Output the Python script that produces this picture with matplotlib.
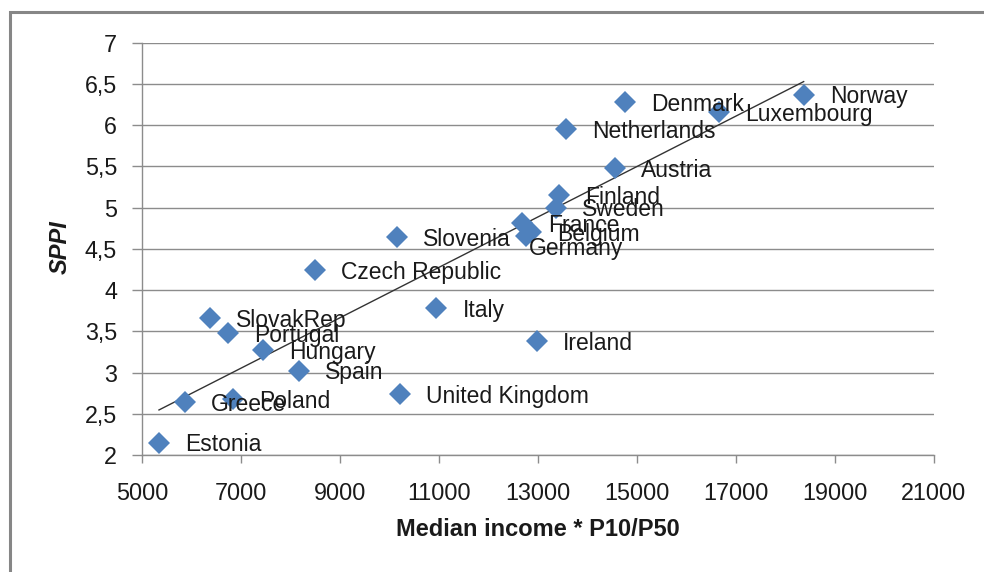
import numpy as np
import matplotlib
matplotlib.use("Agg")
import matplotlib.pyplot as plt
from matplotlib.patches import Rectangle
from matplotlib.ticker import FuncFormatter, MultipleLocator

# Data
countries = ["Estonia", "Greece", "Poland", "SlovakRep", "Portugal", "Hungary",
             "Spain", "United Kingdom", "Italy", "Ireland", "Czech Republic",
             "Slovenia", "France", "Belgium", "Germany", "Sweden", "Finland",
             "Austria", "Netherlands", "Denmark", "Luxembourg", "Norway"]
income = [5343, 5867, 6835, 6371, 6734, 7440,
          8165, 10222, 10948, 12984, 8488,
          10161, 12681, 12863, 12762, 13367, 13427,
          14556, 13569, 14758, 16653, 18367]
sppi = [2.15, 2.64, 2.68, 3.66, 3.48, 3.27,
        3.02, 2.74, 3.78, 3.38, 4.24,
        4.64, 4.81, 4.70, 4.66, 5.00, 5.15,
        5.48, 5.95, 6.28, 6.16, 6.37]
x_ticks = [5000, 7000, 9000, 11000, 13000, 15000, 17000, 19000, 21000]

plt.rcParams['font.family'] = ['Liberation Sans', 'DejaVu Sans']
txt = '#1a1a1a'
gray = '#8c8c8c'

fig = plt.figure(figsize=(9.84, 5.72), dpi=100)
ax = fig.add_axes([142/984, 1 - 455/572, (934 - 142)/984, (455 - 42.7)/572])

# outer chart frame (cut off at right and bottom)
fig.patches.append(Rectangle((10/984, -0.05), 1.1, (560/572) + 0.05,
                             transform=fig.transFigure, fill=False,
                             edgecolor='#868686', linewidth=2.2))

# linear trend line
coef = np.polyfit(income, sppi, 1)
xs = np.array([min(income), max(income)])
ax.plot(xs, np.polyval(coef, xs), color='#333333', linewidth=1.0, zorder=2)

ax.plot(income, sppi, linestyle='none', marker='D', markersize=11.3,
        color='#4F81BD', markeredgewidth=0, zorder=3)

for name, x, y in zip(countries, income, sppi):
    off = (18.7, -1.5)
    if name == "Germany":
        off = (2, -9.5)
    ax.annotate(name, (x, y), xytext=off, textcoords='offset points',
                ha='left', va='center', fontsize=16.5, color=txt, zorder=4)

ax.set_xlim(5000, 21000)
ax.set_ylim(2, 7)
ax.set_xticks(x_ticks)
ax.yaxis.set_major_locator(MultipleLocator(0.5))
ax.yaxis.set_major_formatter(FuncFormatter(lambda v, p: ('%g' % v).replace('.', ',')))

ax.grid(axis='y', color=gray, linewidth=1.0)
ax.set_axisbelow(True)
for s in ['top', 'right']:
    ax.spines[s].set_visible(False)
for s in ['left', 'bottom']:
    ax.spines[s].set_color(gray)
    ax.spines[s].set_linewidth(1.0)

ax.tick_params(axis='x', length=5.8, width=1, color=gray, pad=13.5,
               labelsize=16.8, labelcolor=txt)
ax.tick_params(axis='y', length=7.2, width=1, color=gray, pad=10.8,
               labelsize=16.8, labelcolor=txt)

fig.text(538/984, 1 - 530/572, 'Median income * P10/P50', ha='center', va='center',
         fontsize=17, fontweight='bold', color=txt)
fig.text(60/984, 1 - 247/572, 'SPPI', ha='center', va='center', rotation=90,
         fontsize=17, fontweight='bold', fontstyle='italic', color=txt)

fig.savefig('out.png', dpi=100)
